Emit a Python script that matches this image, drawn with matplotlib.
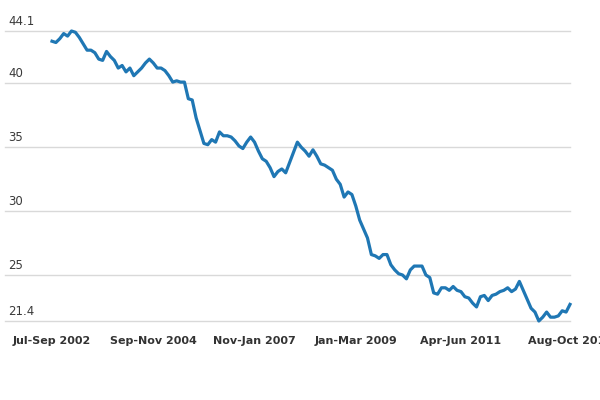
import matplotlib
matplotlib.use("Agg")
import matplotlib.pyplot as plt
from matplotlib.transforms import blended_transform_factory, ScaledTranslation

# Rolling three-month periods, monthly, Jul-Sep 2002 .. Aug-Oct 2013
MONTHS = ["Jan", "Feb", "Mar", "Apr", "May", "Jun",
          "Jul", "Aug", "Sep", "Oct", "Nov", "Dec"]
start_year, start_month = 2002, 7  # July
n_periods = 134

periods = []
for k in range(n_periods):
    m0 = (start_month - 1 + k) % 12
    m2 = (m0 + 2) % 12
    y_end = start_year + (start_month - 1 + k + 2) // 12
    periods.append(f"{MONTHS[m0]}-{MONTHS[m2]} {y_end}")

values = [
    43.3, 43.2, 43.5, 43.9, 43.7, 44.1, 44.0, 43.6, 43.1, 42.6,
    42.6, 42.4, 41.9, 41.8, 42.5, 42.1, 41.8, 41.2, 41.4, 40.9,
    41.2, 40.6, 40.9, 41.2, 41.6, 41.9, 41.6, 41.2, 41.2, 41.0,
    40.6, 40.1, 40.2, 40.1, 40.1, 38.8, 38.7, 37.3, 36.3, 35.3,
    35.2, 35.6, 35.4, 36.2, 35.9, 35.9, 35.8, 35.5, 35.1, 34.9,
    35.4, 35.8, 35.4, 34.7, 34.1, 33.9, 33.4, 32.7, 33.1, 33.3,
    33.0, 33.8, 34.6, 35.4, 35.0, 34.7, 34.3, 34.8, 34.3, 33.7,
    33.6, 33.4, 33.2, 32.5, 32.1, 31.1, 31.5, 31.3, 30.4, 29.3,
    28.6, 27.9, 26.6, 26.5, 26.3, 26.6, 26.6, 25.8, 25.4, 25.1,
    25.0, 24.7, 25.4, 25.7, 25.7, 25.7, 25.0, 24.8, 23.6, 23.5,
    24.0, 24.0, 23.8, 24.1, 23.8, 23.7, 23.3, 23.2, 22.8, 22.5,
    23.3, 23.4, 23.0, 23.4, 23.5, 23.7, 23.8, 24.0, 23.7, 23.9,
    24.5, 23.8, 23.1, 22.4, 22.1, 21.4, 21.7, 22.1, 21.7, 21.7,
    21.8, 22.2, 22.1, 22.7,
]

tick_labels = ["Jul-Sep 2002", "Sep-Nov 2004", "Nov-Jan 2007",
               "Jan-Mar 2009", "Apr-Jun 2011", "Aug-Oct 2013"]
y_ticks = [21.4, 25, 30, 35, 40, 44.1]
y_tick_labels = ["21.4", "25", "30", "35", "40", "44.1"]

fig = plt.figure(figsize=(6, 4), dpi=100)
# axes spans x 5..570 px, y 31..321 px (from top)
ax = fig.add_axes([5 / 600, (400 - 321) / 400, 565 / 600, 290 / 400])

x = list(range(len(values)))
ax.plot(x, values, color="#1f77b4", linewidth=2.3, clip_on=False,
        solid_joinstyle="round", zorder=3)

ax.set_xlim(-12.07, len(values) - 1)
ax.set_ylim(min(y_ticks), max(y_ticks))

for yv in y_ticks:
    ax.axhline(yv, color="#d9d9d9", linewidth=1.0, zorder=1, clip_on=False)

for s in ax.spines.values():
    s.set_visible(False)

ax.set_yticks([])
tick_pos = [periods.index(t) for t in tick_labels]
ax.set_xticks(tick_pos)
ax.set_xticklabels(tick_labels, fontsize=8, fontweight="bold", color="#333333")
ax.tick_params(axis="x", length=0, pad=11)

trans = blended_transform_factory(fig.transFigure, ax.transData) + \
    ScaledTranslation(0, 3 / 72 * 0.75, fig.dpi_scale_trans)
for yv, lab in zip(y_ticks, y_tick_labels):
    ax.text(8 / 600, yv, lab, transform=trans, ha="left", va="bottom",
            fontsize=8.5, color="#3a3a3a")

fig.savefig("out.png", dpi=100)
